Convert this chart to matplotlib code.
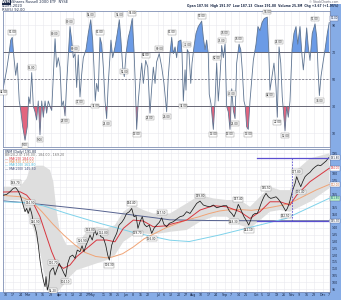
import matplotlib
matplotlib.use("Agg")
import matplotlib.pyplot as plt
from matplotlib.patches import Rectangle
import numpy as np
import datetime as dt

# ---------------- data (day of year 2020) ----------------
rsi_day = [39.1, 42.2, 44.4, 46.0, 47.4, 49.0, 50.6, 52.1, 53.9, 55.3,
           57.1, 59.3, 61.4, 62.7, 63.9, 65.5, 67.0, 68.6, 70.1, 71.6,
           73.2, 74.8, 76.3, 77.9, 79.4, 80.9, 82.5, 84.1, 87.2, 88.7,
           90.2, 91.8, 93.4, 94.9, 96.5, 98.0, 99.5, 101.1, 102.7, 104.2,
           105.8, 107.3, 108.8, 110.4, 112.0, 113.5, 116.0, 118.1, 120.4, 122.2,
           123.4, 124.6, 125.9, 127.4, 129.0, 130.6, 132.1, 133.7, 135.2, 136.7,
           139.2, 140.8, 143.0, 145.1, 147.0, 148.5, 150.1, 151.6, 153.2, 155.3,
           156.9, 159.0, 160.6, 161.8, 163.1, 164.6, 166.2, 167.8, 169.3, 171.5,
           173.4, 175.5, 177.1, 178.6, 180.2, 181.7, 184.1, 186.4, 188.5, 191.0,
           192.5, 194.1, 195.7, 197.2, 198.8, 200.3, 201.8, 204.3, 205.3, 206.5,
           208.1, 209.0, 210.2, 211.8, 213.4, 214.6, 216.4, 218.3, 220.4, 223.6,
           225.1, 226.7, 228.2, 229.7, 230.6, 232.2, 234.4, 236.0, 237.5, 239.0,
           240.6, 242.2, 243.7, 245.3, 246.8, 248.3, 249.9, 251.5, 253.0, 254.6,
           256.1, 258.3, 259.9, 261.3, 262.9, 264.1, 265.4, 266.9, 268.5, 271.6,
           274.1, 275.9, 277.8, 279.7, 281.8, 284.6, 285.9, 287.1, 289.0, 290.8,
           292.7, 293.9, 295.5, 297.1, 298.5, 301.1, 302.6, 304.1, 305.7, 307.6,
           309.4, 311.3, 312.9, 315.0, 316.9, 318.1, 319.7, 321.2, 322.7, 324.3,
           326.4, 329.0, 330.6, 331.7, 333.0, 334.5, 336.7, 338.3, 340.4, 342.2]
rsi_val = [44, 57, 69, 79, 81, 66, 53, 62, 34, 27,
           15, 5, 15, 37, 32, 55, 30, 26, 20, 34,
           9, 34, 22, 34, 25, 34, 30, 27, 80, 59,
           66, 59, 30, 34, 23, 47, 68, 89, 79, 66,
           69, 44, 68, 37, 54, 66, 72, 84, 94, 79,
           59, 34, 47, 41, 81, 76, 59, 34, 21, 47,
           79, 66, 74, 84, 94, 79, 59, 52, 69, 81,
           86, 95, 72, 47, 13, 34, 49, 62, 47, 64,
           59, 25, 44, 59, 47, 63, 69, 59, 47, 26,
           52, 69, 81, 69, 74, 66, 78, 79, 69, 34,
           57, 42, 72, 69, 47, 62, 74, 84, 89, 93,
           81, 72, 79, 69, 39, 32, 13, 34, 62, 34,
           52, 75, 66, 76, 30, 26, 13, 43, 27, 21,
           62, 76, 72, 57, 34, 30, 15, 13, 34, 64,
           76, 89, 86, 92, 95, 96, 72, 42, 52, 62,
           44, 22, 74, 62, 37, 12, 30, 22, 34, 72,
           84, 89, 76, 89, 67, 57, 72, 88, 74, 64,
           84, 91, 81, 59, 38, 52, 64, 72, 84, 92]

price_day = [39.1, 42.2, 45.3, 48.4, 50.6, 53.0, 55.3, 57.1, 59.3, 60.8,
             62.3, 63.9, 65.5, 67.0, 68.6, 70.1, 71.6, 73.2, 74.8, 76.3,
             77.9, 78.8, 80.0, 81.3, 82.5, 84.1, 85.6, 87.2, 88.7, 91.1,
             93.4, 95.5, 97.1, 99.0, 101.1, 103.6, 105.8, 107.9, 110.4, 112.3,
             114.1, 116.0, 118.1, 119.7, 121.8, 124.1, 125.9, 127.8, 129.9, 132.1,
             134.3, 136.2, 137.7, 139.9, 142.0, 144.5, 146.7, 149.2, 151.3, 153.8,
             156.3, 158.5, 160.6, 162.5, 164.3, 166.2, 168.3, 170.2, 172.4, 174.8,
             177.1, 179.2, 181.7, 184.1, 186.4, 188.5, 191.0, 193.4, 197.2, 200.3,
             203.4, 206.5, 209.6, 212.7, 215.8, 218.9, 222.0, 225.1, 228.2, 231.3,
             234.4, 237.5, 240.6, 243.7, 246.8, 249.3, 251.5, 253.6, 255.5, 257.6,
             259.2, 260.8, 262.9, 265.4, 267.3, 269.1, 271.0, 273.2, 275.3, 277.2,
             279.4, 281.5, 283.4, 285.5, 287.7, 290.2, 292.7, 294.8, 297.1, 299.5,
             301.7, 303.2, 305.0, 306.6, 308.2, 310.4, 311.9, 313.4, 315.7, 317.5,
             319.7, 321.8, 324.3, 326.8, 329.2, 331.7, 334.2, 336.7, 339.2, 341.7]
price_val = [164.2, 164.7, 166.7, 169.2, 169.7, 167.2, 163.0, 158.1, 152.0, 154.4,
             150.7, 154.9, 150.7, 144.1, 140.9, 136.0, 127.4, 116.3, 107.7, 101.6,
             96.7, 104.1, 94.2, 97.9, 107.7, 109.7, 110.7, 105.3, 109.0, 113.9,
             110.2, 106.5, 104.1, 113.9, 118.8, 120.0, 117.6, 123.7, 122.5, 126.9,
             122.5, 127.4, 131.1, 134.8, 131.1, 138.5, 134.8, 137.7, 133.5, 132.8,
             127.4, 120.0, 116.3, 127.4, 131.8, 136.0, 142.1, 144.1, 146.6, 150.7,
             152.0, 154.4, 148.3, 149.0, 139.7, 144.6, 148.3, 142.6, 140.9, 142.1,
             136.0, 139.7, 142.1, 144.1, 147.5, 142.6, 140.9, 143.4, 144.6, 146.6,
             148.3, 149.0, 152.0, 150.7, 154.4, 158.1, 159.8, 156.9, 156.1, 155.6,
             156.9, 154.9, 155.6, 156.4, 156.4, 152.5, 150.7, 148.3, 152.0, 157.4,
             154.9, 152.0, 148.3, 145.1, 142.1, 145.8, 149.5, 150.7, 150.7, 154.4,
             159.3, 163.0, 165.5, 163.0, 161.8, 162.3, 163.0, 161.3, 158.8, 155.6,
             152.5, 154.4, 158.1, 163.0, 167.9, 172.8, 177.8, 174.6, 170.4, 174.1,
             177.8, 179.5, 181.0, 183.4, 185.1, 186.4, 185.9, 187.6, 189.3, 191.8]

ma20_day = [39, 54.6, 60.8, 67, 73.2, 79.4, 84.1, 88.7, 95, 101.1, 107.3, 116.6,
            125.9, 135.2, 142.9, 150.7, 160, 169.3, 178.6, 191, 194.1, 209.6, 222,
            234.4, 246.8, 259.2, 268.5, 277.8, 287.1, 296.4, 305.7, 311.9, 324.3, 342.2]
ma20_val = [166.5, 166.7, 164.2, 158.1, 148.3, 133.5, 122.5, 113.9, 110.2, 112.7, 118.8, 124.9,
            131.1, 131.1, 129.8, 139.7, 145.8, 145.1, 140.9, 141.6, 142.6, 145.8, 153.2,
            156.4, 155.6, 152.0, 147.0, 152.0, 159.3, 159.3, 156.9, 164.2, 174.1, 184.0]

ma50_day = [39, 55, 65, 75, 85, 95, 105, 115, 125, 135, 140, 150, 160, 170, 180, 190,
            200, 210, 220, 230, 240, 250, 260, 270, 280, 290, 300, 310, 320, 330, 342]
ma50_val = [164, 163, 160, 152, 143, 135, 128, 122, 119, 118, 118.5, 121, 126, 132, 136, 140,
            143, 146, 148, 150.5, 152.5, 153.5, 153.5, 153, 154, 155.5, 157, 160, 164, 168, 172]

ma100_day = [39, 57.6, 76, 98, 129, 160, 194, 212, 240, 271, 302, 342]
ma100_val = [159.3, 158.8, 156.4, 150.7, 143.4, 136.7, 131.0, 130.0, 134.8, 140.9, 147.0, 161.8]

ma200_day = [39, 60, 90, 120, 150, 180, 194, 230, 275, 342]
ma200_val = [160.0, 158.5, 156.0, 153.5, 150.5, 147.5, 146.0, 145.5, 145.3, 145.3]

bb_up_day = [36, 54.6, 60.8, 63.9, 70.1, 76.3, 82.5, 85.6, 88.7, 91.8, 98, 107.3, 116.6,
             125.9, 135.2, 142.9, 150.7, 160, 169.3, 178.6, 191, 194.1, 209.6, 222, 234.4,
             246.8, 259.2, 268.5, 277.8, 287.1, 296.4, 305.7, 311.9, 324.3, 342.2]
bb_up_val = [170.4, 170.4, 176.5, 183.9, 185.9, 185.9, 182.7, 174.1, 152.0, 137.2, 127.4, 127.4, 137.2,
             140.9, 139.7, 142.1, 152.0, 156.9, 153.2, 150.7, 150.7, 150.7, 158.1, 164.2, 161.8,
             160.6, 160.6, 155.6, 163.0, 170.4, 167.9, 167.9, 182.7, 191.3, 195.0]
bb_lo_day = [36, 54.6, 60.8, 67, 73.2, 79.4, 82.5, 88.7, 95, 101.1, 107.3, 116.6, 125.9,
             135.2, 142.9, 150.7, 160, 169.3, 178.6, 191, 194.1, 209.6, 222, 234.4, 246.8,
             259.2, 268.5, 277.8, 287.1, 296.4, 305.7, 311.9, 324.3, 342.2]
bb_lo_val = [160.6, 160.6, 152.0, 139.7, 122.5, 97.9, 92.0, 92.0, 97.9, 104.1, 109.0, 111.4, 113.9,
             116.3, 120.0, 129.8, 134.8, 136.0, 135.3, 136.7, 137.2, 138.5, 144.6, 148.3, 148.3,
             142.1, 139.7, 145.8, 152.0, 153.2, 152.0, 154.4, 159.3, 169.2]

box_start, box_end = 275, 341
box_top, box_bottom = 191.5, 145.1
box_mark_day = 307.3

rsi_label_days = [39.1, 47.4, 59.3, 65.5, 73.2, 87.2, 96.5, 101.1, 105.8, 110.4, 120.4, 124.6,
                  129.0, 135.2, 147.0, 151.6, 159.0, 163.1, 171.5, 175.5, 184.1, 191.0,
                  195.7, 206.5, 210.2, 223.6, 234.4, 237.5, 242.2, 245.3, 249.9, 251.5,
                  254.6, 258.3, 266.9, 284.6, 287.1, 293.9, 295.5, 301.1, 329.0, 333.0]
price_label_days = [50.6, 63.9, 68.6, 80.0, 85.6, 97.1, 112.3, 119.7, 132.1, 137.7, 158.5,
                    164.3, 177.1, 186.4, 222.0, 253.6, 257.6, 267.3, 283.4, 301.7, 311.9, 315.7]

month_names = ["Mar", "Apr", "May", "Jun", "Jul", "Aug", "Sep", "Oct", "Nov", "Dec"]
month_days = [62, 92, 122, 153, 183, 216, 245, 275, 307, 336]
monday_days = list(range(41, 343, 7))
rsi_ticks = [10, 30, 50, 70, 90]
price_ticks = list(range(95, 200, 5))

# ---------------- figure ----------------
W, H = 341, 300
fig = plt.figure(figsize=(W / 100, H / 100), dpi=100)
fig.patch.set_facecolor("white")
STRIP = "#86ace6"
fig.patches.append(Rectangle((330 / W, 0), 11 / W, 1 - 4 / H, transform=fig.transFigure,
                             facecolor=STRIP, edgecolor="none", zorder=-5))
fig.patches.append(Rectangle((0, 0), 1, 8 / H, transform=fig.transFigure,
                             facecolor=STRIP, edgecolor="none", zorder=-5))

def fpos(x0, y0, x1, y1):
    return [x0 / W, 1 - y1 / H, (x1 - x0) / W, (y1 - y0) / H]

ax1 = fig.add_axes(fpos(3, 11, 330, 147))
ax2 = fig.add_axes(fpos(3, 149, 330, 292))
XL = (38.8, 342.9)

base = dt.date(2019, 12, 31)
xt, xl = [], []
for d, m in zip(month_days, month_names):
    xt.append(d); xl.append(m)
for d in monday_days:
    if min(abs(d - m) for m in month_days) > 3:
        xt.append(d); xl.append(str((base + dt.timedelta(days=d)).day))

for ax in (ax1, ax2):
    ax.set_xlim(*XL)
    ax.set_xticks(xt)
    ax.grid(True, color="#e9e9ee", lw=0.4)
    ax.set_axisbelow(True)
    ax.yaxis.tick_right()
    ax.tick_params(axis="both", length=0, labelsize=2.3, pad=1.0, colors="#1c2a48")
    for s in ax.spines.values():
        s.set_color("#7f8fb4"); s.set_linewidth(0.6)
ax1.tick_params(axis="x", labelbottom=False)
ax2.set_xticklabels(xl)

bb = dict(boxstyle="square,pad=0.12", fc="white", ec="#8a8a8a", lw=0.3)


def place_labels(ax, days, vals, idx_list, up_flags, off, step):
    placed = []
    for i, up in zip(idx_list, up_flags):
        x, v = days[i], vals[i]
        y = v + (off if up else -off)
        for _ in range(6):
            if any(abs(x - px) < 9 and abs(y - py) < step and pu == up for px, py, pu in placed):
                y += step if up else -step
            else:
                break
        placed.append((x, y, up))
        ax.text(x, y, f"{v:.2f}", fontsize=2.0, ha="center",
                va="bottom" if up else "top", bbox=bb, color="#222222", zorder=6)


# ---------- top panel ----------
rd = np.array(rsi_day); rv = np.array(rsi_val, float)
ax1.set_ylim(0, 100.5)
ax1.set_yticks(rsi_ticks)
ax1.fill_between(rd, rv, 70, where=rv >= 70, interpolate=True, color="#6b9be6", lw=0)
ax1.fill_between(rd, rv, 30, where=rv <= 30, interpolate=True, color="#e2657f", lw=0)
ax1.axhline(70, color="#505060", lw=0.6)
ax1.axhline(30, color="#505060", lw=0.6)
ax1.axhline(50, color="#606070", lw=0.5, ls=(0, (3, 2)))
ax1.plot(rd, rv, color="#5f7592", lw=0.6)
ridx = [int(np.argmin(np.abs(rd - d))) for d in rsi_label_days]
place_labels(ax1, rd, rv, ridx, [rv[i] >= 50 for i in ridx], 2.2, 4.5)
ax1.text(1.002, rv[-1] + 3, f"{rv[-1]:.2f}", transform=ax1.get_yaxis_transform(),
         fontsize=1.9, ha="left", va="center", color="#1c2a48",
         bbox=dict(boxstyle="square,pad=0.1", fc="#e8f0ff", ec="#5a6a9a", lw=0.3), clip_on=False)

# ---------- bottom panel ----------
pd_ = np.array(price_day); pv = np.array(price_val)
markers = [(pv[-1], "#1c2a48", "white"), (ma20_val[-1], "#d8363f", "white"),
           (ma50_val[-1], "#c06030", "white"), (ma100_val[-1], "#207080", "#b8f0c8"),
           (ma200_val[-1], "#1c2a48", "white")]
ax2.set_ylim(92.8, 198.2)
ax2.set_yticks(price_ticks)
ax2.set_yticklabels([("" if min(abs(t - m[0]) for m in markers) < 2.6 else str(t))
                     for t in price_ticks])
ax2.fill(np.r_[bb_up_day, bb_lo_day[::-1]], np.r_[bb_up_val, bb_lo_val[::-1]],
         color="#dedede", lw=0, zorder=1)
ax2.plot(ma200_day, ma200_val, color="#56628f", lw=0.7, zorder=2)
ax2.plot(ma100_day, ma100_val, color="#7fd2ea", lw=0.7, zorder=2)
ax2.plot(ma50_day, ma50_val, color="#f0a476", lw=0.7, zorder=2)
ax2.plot(ma20_day, ma20_val, color="#d8363f", lw=0.7, zorder=3)
ax2.plot(pd_, pv, color="#1a1a1a", lw=0.55, zorder=4)
pc = "#5b4fd0"
ax2.plot([box_start, box_end], [box_top, box_top], color=pc, lw=0.9, zorder=5)
ax2.plot([box_start, box_end], [box_bottom, box_bottom], color=pc, lw=0.9, zorder=5)
ax2.plot([box_mark_day, box_mark_day], [box_bottom, box_top], color=pc, lw=0.6,
         ls=(0, (2, 1.5)), zorder=5)
low_i = int(np.argmin(pv))
pidx, pup = [], []
for d in price_label_days:
    i = int(np.argmin(np.abs(pd_ - d)))
    if i == low_i:
        continue
    lo = pv[max(i - 1, 0)]; hi = pv[min(i + 1, len(pv) - 1)]
    pidx.append(i); pup.append(pv[i] >= max(lo, hi) or pv[i] > (lo + hi) / 2)
place_labels(ax2, pd_, pv, pidx, pup, 2.3, 4.2)
# the absolute low sits on the panel floor: label it beside the bar
ax2.text(pd_[low_i] + 1.5, pv[low_i] - 0.3, f"{pv[low_i]:.2f}", fontsize=2.0, ha="left",
         va="center", bbox=bb, color="#222222", zorder=6)
for val, col, fc in markers:
    ax2.text(1.002, val, f"{val:.2f}", transform=ax2.get_yaxis_transform(), fontsize=1.9,
             ha="left", va="center", color=col, clip_on=False, zorder=7,
             bbox=dict(boxstyle="square,pad=0.1", fc=fc, ec="#5a6a9a", lw=0.3))

# ---------- texts ----------
def ftxt(x, y, s, **kw):
    kw.setdefault("fontsize", 2.6)
    kw.setdefault("va", "center")
    fig.text(x / W, 1 - y / H, s, **kw)

ftxt(2, 2.2, "IWM", color="white", fontweight="bold",
     bbox=dict(boxstyle="square,pad=0.1", fc="#1c2a48", ec="none"))
ftxt(11, 2.2, "iShares Russell 2000 ETF  NYSE", color="#1c2a48")
ftxt(2, 6.0, "4-Dec-2020", color="#1c2a48")
ftxt(2, 9.6, "RSI(5) 92.00", color="#1c2a48")
ftxt(338, 1.8, "© StockCharts.com", color="#606070", ha="right", fontsize=2.2)
ftxt(338, 5.8, "Open 187.56  High 191.97  Low 187.13  Close 191.80  Volume 25.3M  Chg +3.67 (+1.95%)",
     color="#1c2a48", ha="right", fontweight="bold", fontsize=2.2)

legend = [("IWM (Daily) 191.80", "#1c2a48"),
          ("BB(20,2.0) 195.00 - 184.00 - 169.20", "#707070"),
          ("— MA(20) 184.00", "#d8363f"),
          ("— MA(50) 172.00", "#e08a50"),
          ("— MA(100) 161.80", "#4cb8d8"),
          ("— MA(200) 145.30", "#3a4678")]
for k, (s, c) in enumerate(legend):
    ftxt(5, 152 + 3.3 * k, s, color=c, fontsize=2.3)

fig.savefig("out.png", dpi=100, facecolor="white")
